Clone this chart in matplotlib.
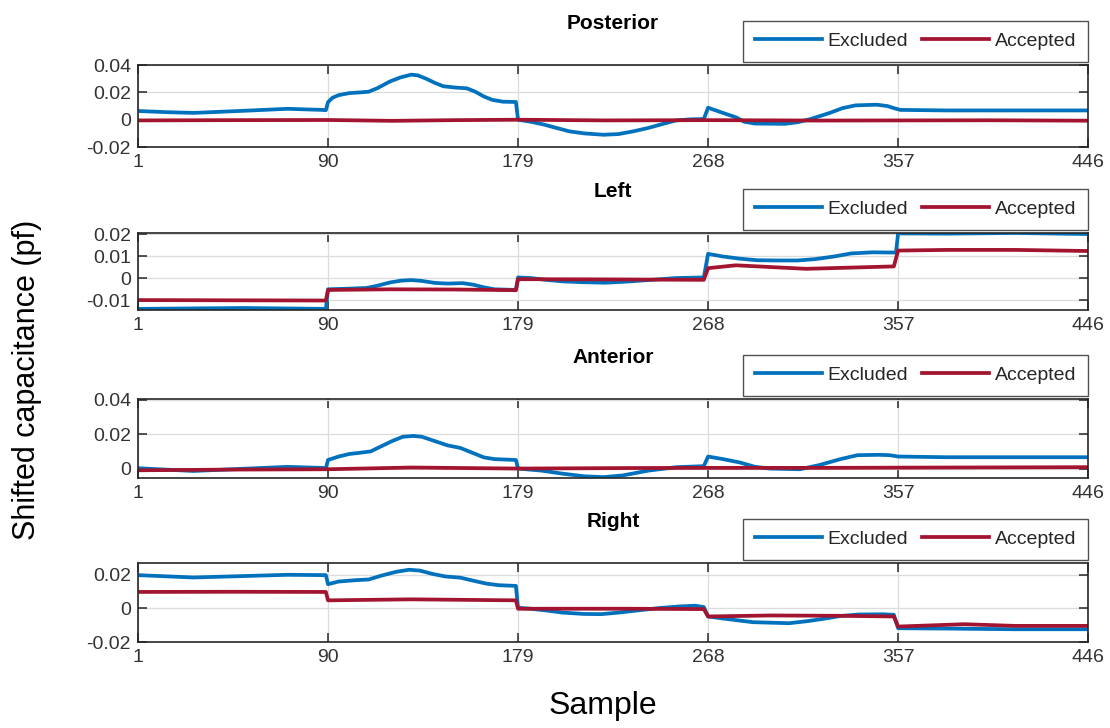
import numpy as np
import matplotlib
matplotlib.use("Agg")
import matplotlib.pyplot as plt

plt.rcParams['font.family'] = ['Liberation Sans', 'DejaVu Sans']

# 샘플 구간 경계 (x 눈금)
x_ticks = [1, 90, 179, 268, 357, 446]
titles = ["Posterior", "Left", "Anterior", "Right"]
series_names = ["Excluded", "Accepted"]

# Posterior
post_exc_x = [1, 15, 27, 50, 71, 87, 89, 90, 92, 95, 100, 105, 109, 113, 119, 124, 129, 132, 136, 140, 144,
              150, 155, 159, 163, 167, 172, 178, 179, 185, 191, 197, 203, 210, 219, 226, 233, 240, 247, 253,
              260, 266, 268, 274, 281, 285, 290, 304, 310, 316, 325, 331, 337, 347, 352, 355, 358, 380, 446]
post_exc_y = [0.0064, 0.0055, 0.005, 0.0065, 0.008, 0.0072, 0.007, 0.0128, 0.016, 0.018, 0.0195, 0.020,
              0.0205, 0.023, 0.028, 0.031, 0.033, 0.0325, 0.030, 0.027, 0.0245, 0.0235, 0.023, 0.0205, 0.017,
              0.0145, 0.0132, 0.013, 0.0, -0.0015, -0.0035, -0.006, -0.0085, -0.010, -0.011, -0.0105, -0.0085,
              -0.006, -0.003, -0.0005, 0.0003, 0.0005, 0.0088, 0.0055, 0.0018, -0.0015, -0.0028, -0.003,
              -0.0018, 0.0005, 0.005, 0.0085, 0.0105, 0.011, 0.010, 0.0085, 0.0072, 0.0068, 0.0068]
post_acc_x = [1, 45, 90, 120, 150, 179, 220, 268, 320, 400, 446]
post_acc_y = [-0.0005, -0.0003, -0.0002, -0.0008, -0.0003, 0.0, -0.0005, -0.0003, -0.0006, -0.0004, -0.0007]

# Left
left_exc_x = [1, 50, 89, 90, 100, 108, 113, 119, 124, 129, 134, 140, 146, 153, 158, 163, 168, 178, 179, 185,
              192, 200, 210, 220, 230, 240, 253, 266, 268, 275, 283, 291, 300, 310, 318, 327, 335, 345, 356,
              357, 380, 412, 446]
left_exc_y = [-0.014, -0.0136, -0.014, -0.0051, -0.0048, -0.0045, -0.0035, -0.002, -0.0012, -0.0009, -0.0013,
              -0.0022, -0.0025, -0.0023, -0.003, -0.0042, -0.0051, -0.0054, 0.0003, 0.0, -0.0008, -0.0015,
              -0.0019, -0.0021, -0.0016, -0.0009, 0.0, 0.0003, 0.011, 0.0098, 0.0088, 0.0081, 0.008, 0.008,
              0.0086, 0.0098, 0.0112, 0.0117, 0.0116, 0.0203, 0.0202, 0.0205, 0.020]
left_acc_x = [1, 45, 89, 90, 119, 150, 178, 179, 220, 266, 268, 281, 314, 355, 357, 380, 412, 446]
left_acc_y = [-0.010, -0.0101, -0.0102, -0.0054, -0.0051, -0.0052, -0.0055, -0.0005, -0.0006, -0.0008,
              0.0045, 0.0058, 0.0042, 0.0053, 0.0125, 0.0128, 0.0128, 0.0123]

# Anterior
ant_exc_x = [1, 27, 71, 87, 89, 90, 95, 100, 105, 110, 115, 120, 125, 130, 134, 140, 146, 152, 158, 163, 168,
             178, 179, 190, 200, 210, 219, 228, 240, 253, 266, 268, 275, 283, 290, 297, 311, 320, 330, 338,
             348, 353, 357, 380, 446]
ant_exc_y = [0.0002, -0.0014, 0.001, 0.0004, 0.0002, 0.005, 0.007, 0.0085, 0.0092, 0.010, 0.013, 0.016,
             0.0185, 0.019, 0.0185, 0.016, 0.0135, 0.012, 0.009, 0.0065, 0.0055, 0.005, 0.0, -0.0012, -0.003,
             -0.0045, -0.005, -0.004, -0.0012, 0.0008, 0.0014, 0.007, 0.0055, 0.0035, 0.001, 0.0, -0.0004,
             0.002, 0.0055, 0.0078, 0.008, 0.0078, 0.007, 0.0066, 0.0066]
ant_acc_x = [1, 45, 90, 129, 179, 230, 268, 320, 380, 446]
ant_acc_y = [-0.001, -0.0006, -0.0004, 0.0006, 0.0, 0.0003, 0.0004, 0.0004, 0.0006, 0.0008]

# Right
right_exc_x = [1, 27, 71, 89, 90, 95, 103, 109, 115, 122, 128, 133, 139, 145, 152, 158, 164, 170, 178, 179,
               185, 192, 200, 210, 218, 226, 235, 245, 255, 262, 266, 268, 278, 289, 306, 315, 322, 330, 339,
               350, 355, 357, 380, 412, 446]
right_exc_y = [0.0198, 0.0184, 0.020, 0.0198, 0.0144, 0.016, 0.0168, 0.0172, 0.0195, 0.0218, 0.023, 0.0225,
               0.0205, 0.019, 0.0183, 0.0165, 0.0148, 0.0138, 0.0134, 0.0004, -0.0002, -0.0012, -0.0025,
               -0.0033, -0.0034, -0.0025, -0.0012, 0.0002, 0.0012, 0.0016, 0.0008, -0.0048, -0.0065, -0.0082,
               -0.0088, -0.0075, -0.0062, -0.0045, -0.0036, -0.0035, -0.0038, -0.0118, -0.012, -0.0124, -0.0124]
right_acc_x = [1, 45, 89, 90, 129, 178, 179, 232, 266, 268, 297, 330, 355, 357, 388, 412, 446]
right_acc_y = [0.0098, 0.0099, 0.0098, 0.0048, 0.0054, 0.0048, -0.0002, -0.0002, -0.0004, -0.0048, -0.0042,
               -0.0044, -0.0048, -0.0108, -0.0094, -0.0104, -0.0104]

# y 눈금, y 범위
y_ticks = [[-0.02, 0, 0.02, 0.04], [-0.01, 0, 0.01, 0.02], [0, 0.02, 0.04], [-0.02, 0, 0.02]]
y_lims = [(-0.02, 0.04), (-0.0145, 0.0205), (-0.0055, 0.0405), (-0.02, 0.027)]

exc_data = [(post_exc_x, post_exc_y), (left_exc_x, left_exc_y), (ant_exc_x, ant_exc_y), (right_exc_x, right_exc_y)]
acc_data = [(post_acc_x, post_acc_y), (left_acc_x, left_acc_y), (ant_acc_x, ant_acc_y), (right_acc_x, right_acc_y)]

blue = "#0072BD"
red = "#A2142F"

fig = plt.figure(figsize=(11.1, 7.28), dpi=100)
# 각 패널의 위치 (figure 비율)
rects = [[0.1243, 0.798, 0.856, 0.1126],
         [0.1243, 0.5742, 0.856, 0.1058],
         [0.1243, 0.3434, 0.856, 0.1085],
         [0.1243, 0.1181, 0.856, 0.1085]]

for i in range(4):
    ax = fig.add_axes(rects[i])
    ax.plot(exc_data[i][0], exc_data[i][1], color=blue, lw=2.7, label=series_names[0])
    ax.plot(acc_data[i][0], acc_data[i][1], color=red, lw=2.7, label=series_names[1])
    ax.set_xlim(1, 446)
    ax.set_ylim(*y_lims[i])
    ax.set_xticks(x_ticks)
    ax.set_yticks(y_ticks[i])
    ax.set_yticklabels(["%g" % v for v in y_ticks[i]])
    ax.grid(True, color="#dcdcdc", lw=0.9)
    ax.set_axisbelow(True)
    ax.tick_params(direction="in", length=6.5, width=1.1, top=True, right=True,
                   labelsize=14, labelcolor="#333333", color="#262626", pad=5)
    for s in ax.spines.values():
        s.set_color("#262626")
        s.set_linewidth(1.2)
    ax.set_title(titles[i], fontsize=15, fontweight="bold", pad=26)
    leg = ax.legend(loc="lower right", bbox_to_anchor=(1.0, 1.04), ncol=2, fontsize=14,
                    frameon=True, fancybox=False, edgecolor="#262626", handlelength=3.45,
                    handletextpad=0.3, columnspacing=0.7, borderpad=0.6, borderaxespad=0.0)
    leg.get_frame().set_linewidth(1.0)
    for t in leg.get_texts():
        t.set_color("#262626")

fig.text(0.024, 0.478, "Shifted capacitance (pf)", rotation=90, ha="center", va="center", fontsize=22)
fig.text(0.543, 0.03, "Sample", ha="center", va="center", fontsize=23)

plt.savefig("out.png", dpi=100)
